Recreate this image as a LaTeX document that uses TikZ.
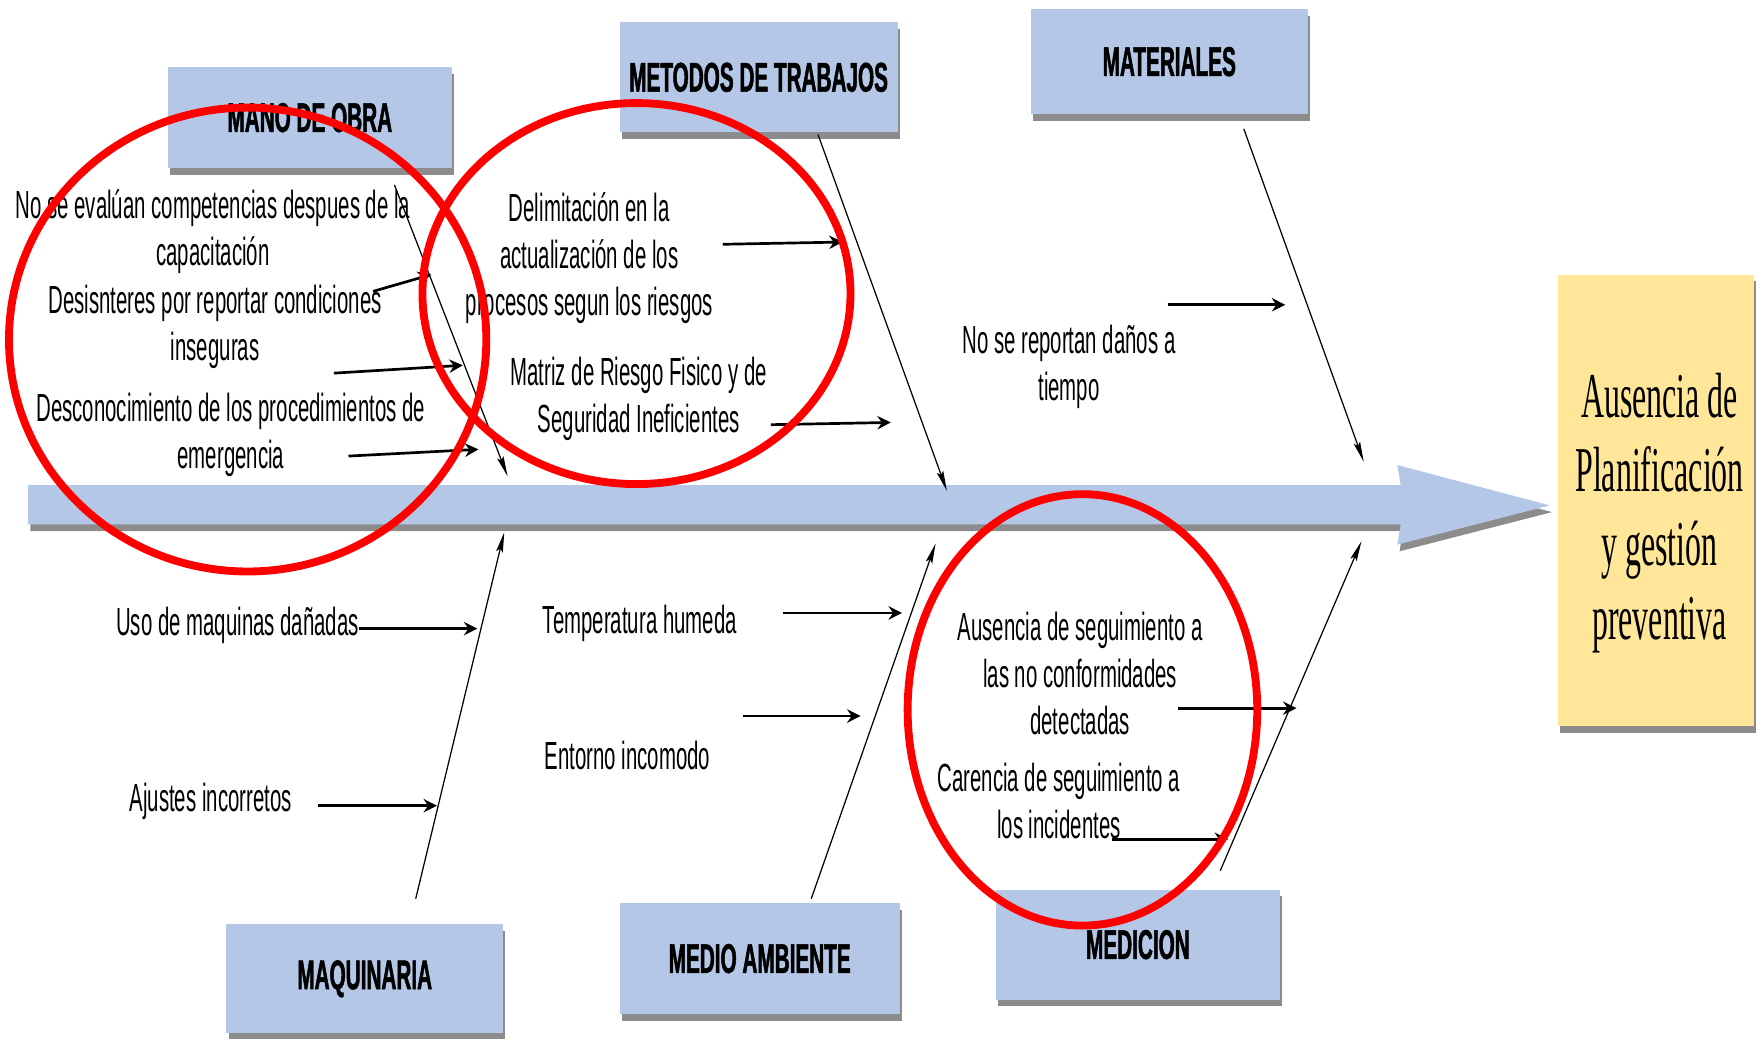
\documentclass[tikz,border=0pt]{standalone}
\usepackage{fontspec}
\setmainfont{Liberation Sans}[FakeStretch=0.52]
\newfontfamily\hdrfont{Liberation Sans}[FakeStretch=0.5,FakeBold=1.2]
\newfontfamily\resfont{Liberation Serif}[FakeStretch=0.5]
\usetikzlibrary{arrows.meta,shadows}
\definecolor{boxblue}{RGB}{180,199,231}
\definecolor{resyellow}{RGB}{255,230,153}
\begin{document}
\begin{tikzpicture}[x=1pt,y=-1pt,
  shad/.style={drop shadow={shadow xshift=2pt,shadow yshift=-6pt,fill=black,opacity=0.45}},
  catbox/.style={rectangle,fill=boxblue,inner sep=0pt,shad,
    font=\hdrfont\bfseries\fontsize{37}{42}\selectfont},
  resbox/.style={rectangle,fill=resyellow,inner sep=0pt,shad},
  restext/.style={align=center,font=\resfont\fontsize{57}{66}\selectfont},
  txt/.style={align=center,inner sep=0pt,font=\fontsize{35}{42}\selectfont},
  bone/.style={line width=1.1pt,-{Stealth[length=18pt,width=6pt,inset=3pt]}},
  cause/.style={line width=2.4pt,-{Stealth[length=12pt,width=12pt,inset=4pt]}},
  redring/.style={draw=red,line width=7pt}]
\useasboundingbox (0,0) rectangle (1568,927);

% spine
\path[fill=boxblue,shad] (25,433) -- (1250,433) -- (1247,415) -- (1383,451)
  -- (1247,486) -- (1250,468) -- (25,468) -- cycle;

% category boxes
\node[catbox,minimum width=253pt,minimum height=90pt] (mano) at (276.5,105) {MANO DE OBRA};
\node[catbox,minimum width=248pt,minimum height=98pt] (metodos) at (677,69) {METODOS DE TRABAJOS};
\node[catbox,minimum width=247pt,minimum height=94pt] (materiales) at (1043.5,55) {MATERIALES};
\node[catbox,minimum width=247pt,minimum height=97pt] (maquinaria) at (325.5,873.5) {MAQUINARIA};
\node[catbox,minimum width=250pt,minimum height=99pt] (medio) at (678,855.5) {MEDIO AMBIENTE};
\node[catbox,minimum width=253pt,minimum height=98pt] (medicion) at (1015.5,843) {MEDICION};

% effect box
\node[resbox,minimum width=175pt,minimum height=403pt] (efecto) at (1477.5,446.5) {};
\node[restext] (efectotxt) at (1481,458) {Ausencia de\\Planificación\\y gestión\\preventiva};

% bones
\coordinate (d1s) at (352,165);  \coordinate (d1e) at (453,425);
\coordinate (d2s) at (730,120);  \coordinate (d2e) at (845,438);
\coordinate (d3s) at (1110,115); \coordinate (d3e) at (1217,412);
\coordinate (d4s) at (371,802);  \coordinate (d4e) at (450,475);
\coordinate (d5s) at (724,802);  \coordinate (d5e) at (835,485);
\coordinate (d6s) at (1089,777); \coordinate (d6e) at (1215,483);
\draw[bone] (d1s) -- (d1e);
\draw[bone] (d2s) -- (d2e);
\draw[bone] (d3s) -- (d3e);
\draw[bone] (d4s) -- (d4e);
\draw[bone] (d5s) -- (d5e);
\draw[bone] (d6s) -- (d6e);

% cause texts
\node[txt] (t1) at (190,207) {No se evalúan competencias despues de la\\capacitación};
\node[txt] (t2) at (192,292) {Desisnteres por reportar condiciones\\inseguras};
\node[txt] (t3) at (206,388) {Desconocimiento  de los procedimientos de\\emergencia};
\node[txt] (t4) at (526,230) {Delimitación  en la\\actualización  de los\\procesos segun los riesgos};
\node[txt] (t5) at (570,356) {Matriz de Riesgo Fisico y de\\Seguridad  Ineficientes};
\node[txt] (t6) at (954,327) {No se reportan daños a\\tiempo};
\node[txt] (t7) at (212,558) {Uso de maquinas dañadas};
\node[txt] (t8) at (188,715) {Ajustes incorretos};
\node[txt] (t9) at (571,556) {Temperatura humeda};
\node[txt] (t10) at (560,674) {Entorno incomodo};
\node[txt] (t11) at (964,601) {Ausencia  de seguimiento a\\las no conformidades\\detectadas};
\node[txt] (t12) at (945,715) {Carencia de seguimiento  a\\los incidentes};

% cause arrows
\coordinate (a1s) at (333,260);  \coordinate (a1e) at (385,245);
\coordinate (a2s) at (298,333);  \coordinate (a2e) at (413,326);
\coordinate (a3s) at (311,407);  \coordinate (a3e) at (427,401);
\coordinate (a4s) at (645,218);  \coordinate (a4e) at (752,216);
\coordinate (a5s) at (688,379);  \coordinate (a5e) at (795,377);
\coordinate (a6s) at (1042,272); \coordinate (a6e) at (1147,272);
\coordinate (a7s) at (320,561);  \coordinate (a7e) at (426,561);
\coordinate (a8s) at (284,719);  \coordinate (a8e) at (390,719);
\coordinate (a9s) at (699,547);  \coordinate (a9e) at (805,547);
\coordinate (a10s) at (663,639); \coordinate (a10e) at (768,639);
\coordinate (a11s) at (1051,632);\coordinate (a11e) at (1157,632);
\coordinate (a12s) at (992,749); \coordinate (a12e) at (1096,749);
\foreach \i in {1,...,12} {\draw[cause] (a\i s) -- (a\i e);}

% red highlight rings
\draw[redring] (221,303) ellipse [x radius=213, y radius=207];
\draw[redring] (568,262) ellipse [x radius=191, y radius=170];
\draw[redring] (966,633.5) ellipse [x radius=156, y radius=192.5];
\end{tikzpicture}
\end{document}
